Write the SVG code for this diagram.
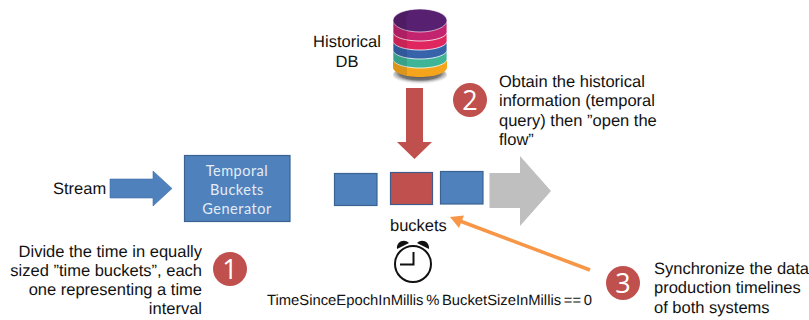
<svg xmlns="http://www.w3.org/2000/svg" width="809" height="320" viewBox="0 0 809 320">
<defs>
<style>
.t{font-family:"Liberation Sans",Arial,sans-serif;font-size:16.500px;fill:#111;text-rendering:geometricPrecision}
.m{text-anchor:middle}
.e{text-anchor:end}
.num{font-family:"Open Sans","Liberation Sans",sans-serif;font-size:27px;fill:#fff;text-anchor:middle}
.blue{fill:#4f81bd;stroke:#3a6391;stroke-width:1.2}
.red{fill:#c0504d;stroke:#3f5c8c;stroke-width:1.2}
.badge{fill:#c0504d}
.tb{font-family:Lato,"Open Sans",sans-serif;font-size:14.500px;fill:#e4ecf5;text-anchor:middle;letter-spacing:.5px}
.band{stroke:#fff;stroke-width:.8}
</style>
<radialGradient id="sh" cx=".5" cy=".4" r=".55"><stop offset="0" stop-color="#444"/><stop offset=".7" stop-color="#777"/><stop offset="1" stop-color="#bbb" stop-opacity=".2"/></radialGradient>
<clipPath id="dbclip"><path d="M393 21C393 14 405 9 420 9S447 14 447 21V67C447 73 435 77 420 77S393 73 393 67Z"/></clipPath>
</defs>
<g id="connectors">
<path d="M110 179H153V171L172 188.500L153 206V198H110Z" fill="#4f81bd" stroke="#3f6ea8" stroke-width=".6"/>
<path d="M406 88H423V142H432L414.500 159L397 142H406Z" fill="#c0504d"/>
<path d="M489.500 173H520V156L551 191L520 226V208H489.500Z" fill="#bfbfbf"/>
<path d="M590 270L460 221" stroke="#f79646" stroke-width="3.500" fill="none"/>
<path d="M450 217L464 215.500L459 228Z" fill="#f79646"/>
</g>
<g id="node-db">
<ellipse cx="420" cy="75" rx="27" ry="9" fill="url(#sh)"/>
<path d="M393 59V67C393 73 405 77 420 77S447 73 447 67V59Z" fill="#f5a51c"/>
<path class="band" d="M393 50V59C393 64 405 68 420 68S447 64 447 59V50Z" fill="#3fb598"/>
<path class="band" d="M393 41V50C393 55 405 59 420 59S447 55 447 50V41Z" fill="#3763ab"/>
<path class="band" d="M393 32V41C393 46 405 50 420 50S447 46 447 41V32Z" fill="#e0265e"/>
<path class="band" d="M393 21V32C393 37 405 41 420 41S447 37 447 32V21Z" fill="#c2246f"/>
<ellipse cx="420" cy="20.500" rx="27" ry="11.500" fill="#582070" stroke="#fff" stroke-width=".6"/>
<path clip-path="url(#dbclip)" d="M390 5H418C405 12 405 20 407 30V80H390Z" fill="#000" opacity=".1"/>
<text class="t m" x="347" y="47">Historical</text>
<text class="t m" x="347" y="67">DB</text>
</g>
<g id="node-generator">
<rect class="blue" x="184.500" y="155.500" width="105.500" height="66"/>
<text class="tb" x="237" y="176">Temporal</text>
<text class="tb" x="237" y="195">Buckets</text>
<text class="tb" x="237" y="214">Generator</text>
</g>
<g id="node-stream"><text class="t" x="53" y="194">Stream</text></g>
<g id="node-bucket-1"><rect class="blue" x="334.500" y="173.500" width="42.500" height="32"/></g>
<g id="node-bucket-2"><rect class="red" x="390.500" y="172.500" width="42" height="32"/></g>
<g id="node-bucket-3"><rect class="blue" x="440.500" y="171.500" width="42.500" height="32.500"/></g>
<g id="node-buckets-label"><text class="t" x="390" y="231">buckets</text></g>
<g id="node-clock" fill="none" stroke="#111">
<circle cx="413" cy="264" r="18" stroke-width="2"/>
<path d="M413.500 252V264.500H400" stroke-width="2"/>
<path d="M397 249C396 242 404 238 409 243Z M429 249C430 242 422 238 417 243Z" fill="#111" stroke="none"/>
</g>
<g id="node-formula"><text class="t" x="267" y="305" style="font-size:14.800px;word-spacing:-1.500px">TimeSinceEpochInMillis % BucketSizeInMillis == 0</text></g>
<g id="node-step-1">
<circle class="badge" cx="230" cy="269" r="17"/><text class="num" x="230" y="279">1</text>
<text class="t e" x="202" y="257">Divide the time in equally</text>
<text class="t e" x="202" y="276">sized ”time buckets”, each</text>
<text class="t e" x="202" y="295">one representing a time</text>
<text class="t e" x="202" y="314">interval</text>
</g>
<g id="node-step-2">
<circle class="badge" cx="470" cy="100" r="17"/><text class="num" x="470" y="110">2</text>
<text class="t" x="499" y="87">Obtain the historical</text>
<text class="t" x="499" y="106">information (temporal</text>
<text class="t" x="499" y="126">query) then ”open the</text>
<text class="t" x="499" y="145">flow”</text>
</g>
<g id="node-step-3">
<circle class="badge" cx="623" cy="283" r="17"/><text class="num" x="623" y="293">3</text>
<text class="t" x="654" y="274">Synchronize the data</text>
<text class="t" x="654" y="293">production timelines</text>
<text class="t" x="654" y="313">of both systems</text>
</g>
</svg>
